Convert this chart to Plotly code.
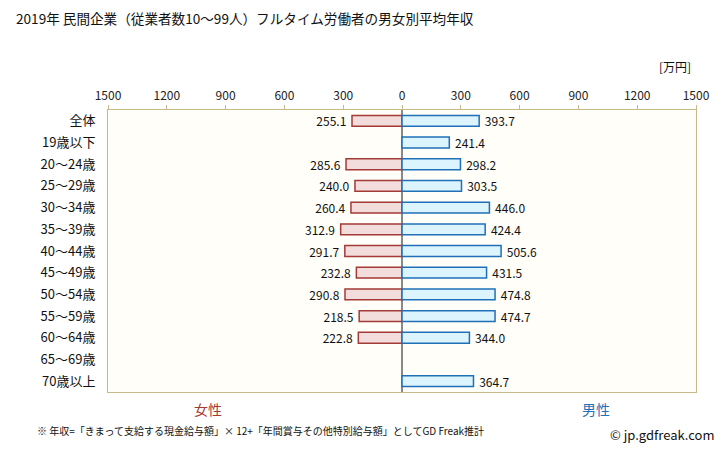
import plotly.graph_objects as go

categories = ["全体", "19歳以下", "20〜24歳", "25〜29歳", "30〜34歳", "35〜39歳",
              "40〜44歳", "45〜49歳", "50〜54歳", "55〜59歳", "60〜64歳", "65〜69歳", "70歳以上"]
female = [255.1, None, 285.6, 240.0, 260.4, 312.9, 291.7, 232.8, 290.8, 218.5, 222.8, None, None]
male = [393.7, 241.4, 298.2, 303.5, 446.0, 424.4, 505.6, 431.5, 474.8, 474.7, 344.0, None, 364.7]
tick_vals = [-1500, -1200, -900, -600, -300, 0, 300, 600, 900, 1200, 1500]
tick_text = ["1500", "1200", "900", "600", "300", "0", "300", "600", "900", "1200", "1500"]

FONT = "Noto Sans CJK JP"
NB = "\u00a0"

fem_x = [-v if v is not None else None for v in female]
fem_t = [f"{v:.1f}{NB}" if v is not None else "" for v in female]
male_t = [f"{NB}{v:.1f}" if v is not None else "" for v in male]

fig = go.Figure()
fig.add_trace(go.Bar(
    y=categories, x=fem_x, orientation="h", width=0.5,
    marker=dict(color="#f2dcdc", line=dict(color="#a33a36", width=1.5)),
    text=fem_t, textposition="outside", cliponaxis=False, constraintext="none",
    textfont=dict(family=FONT, size=12, color="#111111"),
    hoverinfo="skip", showlegend=False))
fig.add_trace(go.Bar(
    y=categories, x=male, orientation="h", width=0.5,
    marker=dict(color="#dcf4fd", line=dict(color="#1f70b8", width=1.5)),
    text=male_t, textposition="outside", cliponaxis=False, constraintext="none",
    textfont=dict(family=FONT, size=12, color="#111111"),
    hoverinfo="skip", showlegend=False))

W, H = 728, 451
l, r, t, b = 108, 32, 110, 59

fig.update_layout(
    width=W, height=H,
    margin=dict(l=l, r=r, t=t, b=b),
    paper_bgcolor="white", plot_bgcolor="#fffef9",
    barmode="overlay", bargap=0.5,
    font=dict(family=FONT, size=12, color="#111111"),
    xaxis=dict(range=[-1500, 1500], side="top", tickvals=tick_vals, ticktext=tick_text,
               ticks="outside", ticklen=4, tickcolor="#c8b98a",
               tickfont=dict(family=FONT, size=12, color="#222222"),
               showgrid=False, zeroline=True, zerolinecolor="#888888", zerolinewidth=1.5,
               showline=True, linecolor="#c8b98a", mirror=True, fixedrange=True),
    yaxis=dict(autorange="reversed", showgrid=False, ticks="", ticklen=0,
               ticklabelstandoff=9,
               tickfont=dict(family=FONT, size=13, color="#111111"),
               showline=True, linecolor="#c8b98a", mirror=True, fixedrange=True),
    annotations=[
        dict(text="2019年 民間企業（従業者数10〜99人）フルタイム労働者の男女別平均年収",
             showarrow=False, xanchor="left", yanchor="middle",
             font=dict(family=FONT, size=13.6, color="#111111")),
        dict(text="[万円]", showarrow=False, xanchor="center", yanchor="middle",
             font=dict(family=FONT, size=12, color="#111111")),
        dict(text="女性", showarrow=False, xanchor="center", yanchor="middle",
             font=dict(family=FONT, size=14, color="#a33a36")),
        dict(text="男性", showarrow=False, xanchor="center", yanchor="middle",
             font=dict(family=FONT, size=14, color="#1f70b8")),
        dict(text="※ 年収=「きまって支給する現金給与額」× 12+「年間賞与その他特別給与額」としてGD Freak推計",
             showarrow=False, xanchor="left", yanchor="middle",
             font=dict(family=FONT, size=10, color="#111111")),
        dict(text="© jp.gdfreak.com", showarrow=False, xanchor="right", yanchor="middle",
             font=dict(family=FONT, size=13, color="#111111")),
    ],
)

pw, ph = W - l - r, H - t - b
def px(x): return (x - l) / pw
def py(y): return (H - b - y) / ph
pos = [(14, 18), (675, 66), (208, 409), (596, 409), (35, 430), (717, 434)]
anns = list(fig.layout.annotations)
for a, (x, y) in zip(anns, pos):
    a.x = px(x); a.y = py(y); a.xref = "paper"; a.yref = "paper"
fig.layout.annotations = anns

fig.write_html("out.html", config={"displayModeBar": False},
               post_script="document.body.style.margin='0';document.body.style.padding='0';")
